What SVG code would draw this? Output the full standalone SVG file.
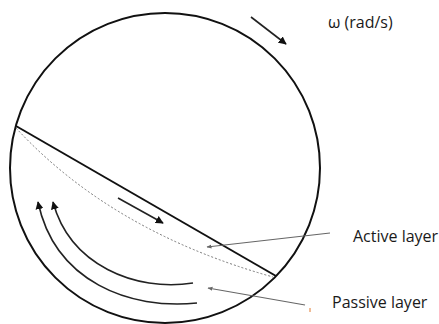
<svg xmlns="http://www.w3.org/2000/svg" width="439" height="324" viewBox="0 0 439 324">
<style>
.lbl{font-family:"Open Sans","Liberation Sans",sans-serif;font-size:16px;fill:#1a1a1a}
.blk{fill:none;stroke:#111;stroke-width:2}
.arr{fill:none;stroke:#222;stroke-width:1.6}
.lead{fill:none;stroke:#666;stroke-width:1.1}
</style>
<defs>
<marker id="ah" viewBox="0 0 10 10" refX="9" refY="5" markerWidth="8" markerHeight="8" markerUnits="userSpaceOnUse" orient="auto"><path d="M0,0 L10,5 L0,10 z" fill="#111"/></marker>
<marker id="sh" viewBox="0 0 10 10" refX="9" refY="5" markerWidth="5" markerHeight="5" markerUnits="userSpaceOnUse" orient="auto"><path d="M0,1 L10,5 L0,9 z" fill="#666"/></marker>
</defs>
<g id="drum">
<circle cx="165" cy="168" r="155" class="blk"/>
<line x1="16" y1="126" x2="276" y2="276" class="blk"/>
<path d="M16,128 Q112,232 273,277" fill="none" stroke="#777" stroke-width="1" stroke-dasharray="2,2"/>
</g>
<g id="connectors">
<line x1="251" y1="17" x2="286" y2="44" class="arr" marker-end="url(#ah)"/>
<line x1="118" y1="198" x2="163" y2="223" class="arr" marker-end="url(#ah)"/>
<path d="M197,303 C130,310 55,282 38,202" class="arr" marker-end="url(#ah)"/>
<path d="M193,283 C135,292 70,265 53,202" class="arr" marker-end="url(#ah)"/>
<line x1="330" y1="233" x2="207" y2="247" class="lead" marker-end="url(#sh)"/>
<line x1="305" y1="305" x2="208" y2="288" class="lead" marker-end="url(#sh)"/>
<line x1="310" y1="308" x2="310" y2="312" stroke="#e07a30" stroke-width="1"/>
</g>
<g id="omega"><text x="328" y="28" class="lbl">ω (rad/s)</text></g>
<g id="active"><text x="353" y="242" class="lbl">Active layer</text></g>
<g id="passive"><text x="332" y="308" class="lbl">Passive layer</text></g>
</svg>
